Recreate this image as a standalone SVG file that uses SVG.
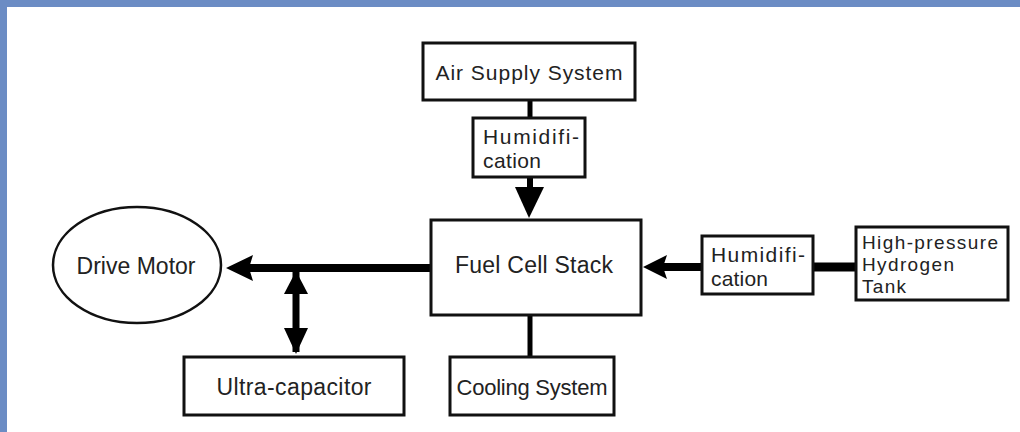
<svg xmlns="http://www.w3.org/2000/svg" width="1020" height="432" viewBox="0 0 1020 432">
<style>
.box{fill:#fff;stroke:#111;stroke-width:3}
.t{font-family:"Liberation Sans",Arial,sans-serif;fill:#222}
.c{text-anchor:middle}
.ln{stroke:#000;fill:none}
.hd{fill:#000}
</style>
<rect x="0" y="0" width="1020" height="432" fill="#fff"/>
<rect x="0" y="0" width="1020" height="7" fill="#6b8cc4"/>
<rect x="0" y="0" width="7" height="432" fill="#6b8cc4"/>
<g id="connectors">
<line class="ln" x1="530" y1="100" x2="530" y2="118" stroke-width="5"/>
<line class="ln" x1="530" y1="177" x2="530" y2="192" stroke-width="6"/>
<polygon class="hd" points="515,187 544,187 529,218"/>
<line class="ln" x1="431" y1="268" x2="248" y2="268" stroke-width="8"/>
<polygon class="hd" points="226,268 253,255 249,268 253,281"/>
<line class="ln" x1="296" y1="272" x2="296" y2="352" stroke-width="7"/>
<polygon class="hd" points="296,271 308,294 284,294"/>
<polygon class="hd" points="284,328 308,328 296,354"/>
<line class="ln" x1="530" y1="315" x2="530" y2="357" stroke-width="5"/>
<line class="ln" x1="813" y1="267" x2="856" y2="267" stroke-width="9"/>
<line class="ln" x1="702" y1="267" x2="662" y2="267" stroke-width="8"/>
<polygon class="hd" points="643,267 667,255 663,267 667,279"/>
</g>
<g id="air-supply">
<rect class="box" x="423" y="43" width="212" height="57"/>
<text class="t c" x="529" y="80" style="font-size:21px" textLength="187">Air Supply System</text>
</g>
<g id="humidification-air">
<rect class="box" x="473" y="118" width="112" height="59"/>
<text class="t" x="483" y="144" style="font-size:21px" textLength="96">Humidifi-</text>
<text class="t" x="483" y="168" style="font-size:21px" textLength="58">cation</text>
</g>
<g id="fuel-cell-stack">
<rect class="box" x="431" y="220" width="210" height="95"/>
<text class="t c" x="534" y="273" style="font-size:23px" textLength="158">Fuel Cell Stack</text>
</g>
<g id="drive-motor">
<ellipse cx="137" cy="265" rx="84" ry="58" fill="#fff" stroke="#111" stroke-width="2.5"/>
<text class="t c" x="136" y="274" style="font-size:23px" textLength="119">Drive Motor</text>
</g>
<g id="ultra-capacitor">
<rect class="box" x="184" y="357" width="220" height="58"/>
<text class="t c" x="294" y="395" style="font-size:23px" textLength="155">Ultra-capacitor</text>
</g>
<g id="cooling-system">
<rect class="box" x="450" y="357" width="164" height="58"/>
<text class="t c" x="532" y="395" style="font-size:22px" textLength="151">Cooling System</text>
</g>
<g id="humidification-h2">
<rect class="box" x="702" y="236" width="111" height="58"/>
<text class="t" x="711" y="262" style="font-size:21px" textLength="94">Humidifi-</text>
<text class="t" x="711" y="286" style="font-size:21px" textLength="57">cation</text>
</g>
<g id="hydrogen-tank">
<rect class="box" x="856" y="227" width="152" height="73"/>
<text class="t" x="862" y="249" style="font-size:19px" textLength="136">High-pressure</text>
<text class="t" x="862" y="271" style="font-size:19px" textLength="92">Hydrogen</text>
<text class="t" x="862" y="293" style="font-size:19px" textLength="44">Tank</text>
</g>
</svg>
